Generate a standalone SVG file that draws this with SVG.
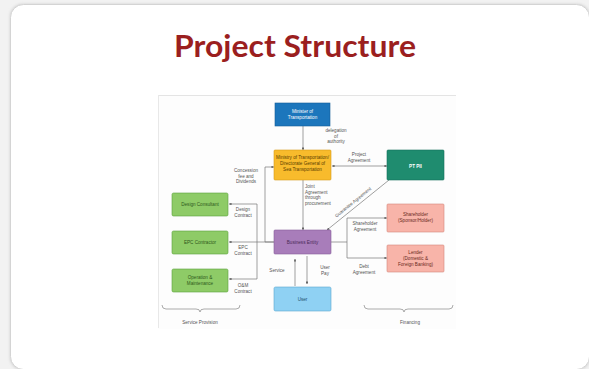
<svg xmlns="http://www.w3.org/2000/svg" width="589" height="369" viewBox="0 0 589 369">
<defs>
<marker id="ah" viewBox="0 0 6 6" refX="5.5" refY="3" markerWidth="4" markerHeight="4" orient="auto-start-reverse"><path d="M0,0 L6,3 L0,6 z" fill="#666"/></marker>
<filter id="sh" x="-5%" y="-5%" width="110%" height="110%"><feGaussianBlur stdDeviation="1.5"/></filter>
</defs>
<style>
.lbl{font-family:"Liberation Sans",Arial,sans-serif;font-size:4.6px;fill:#555;text-anchor:middle}
.bx{font-family:"Liberation Sans",Arial,sans-serif;font-size:4.6px;text-anchor:middle}
.ln{stroke:#777;stroke-width:0.7;fill:none}
.ar{stroke:#777;stroke-width:0.7;fill:none;marker-end:url(#ah)}
.br{stroke:#888;stroke-width:0.7;fill:none}
</style>
<rect width="589" height="369" fill="#f2f2f2"/>
<rect x="10" y="4" width="580" height="366" rx="13" fill="#cfcfcf" filter="url(#sh)"/>
<rect x="10.5" y="4.5" width="579" height="365" rx="13" fill="#ffffff" stroke="#d4d4d4" stroke-width="1"/>
<text x="295" y="57" font-family="Lato,'Open Sans',sans-serif" font-weight="bold" font-size="30" fill="#9b1f1f" text-anchor="middle" textLength="242" lengthAdjust="spacingAndGlyphs">Project Structure</text>
<rect x="158" y="95" width="298" height="234" fill="#fdfdfd"/>
<line x1="158" y1="95.5" x2="456" y2="95.5" stroke="#e4e4e4" stroke-width="1"/>
<line x1="158.5" y1="95" x2="158.5" y2="328" stroke="#e8e8e8" stroke-width="1"/>

<g id="connectors">
<path class="ar" d="M303,126 L303,150"/>
<path class="ar" d="M345,166 L332,166" />
<path class="ar" d="M345,166 L387,166"/>
<path class="ar" d="M389,180 L327,230"/>
<path class="ar" d="M303,180 L303,230"/>
<path class="ar" d="M274,242 L265,242 L265,167 L274,167"/>
<path class="ln" d="M274,242 L257,242"/>
<path class="ln" d="M257,204 L257,279"/>
<path class="ar" d="M257,204 L229,204"/>
<path class="ar" d="M257,242 L229,242"/>
<path class="ar" d="M257,279 L229,279"/>
<path class="ln" d="M331,242 L347,242"/>
<path class="ln" d="M347,218 L347,258"/>
<path class="ar" d="M347,218 L387,218"/>
<path class="ar" d="M347,258 L387,258"/>
<path class="ar" d="M295,286 L295,259"/>
<path class="ar" d="M307,256 L307,284"/>
<path class="br" d="M162,305 Q162,309 166,309 L196,309 Q200,309 200,312 Q200,309 204,309 L236,309 Q240,309 240,305"/>
<path class="br" d="M364,305 Q364,309 368,309 L400,309 Q404,309 404,312 Q404,309 408,309 L449,309 Q453,309 453,305"/>
</g>

<g class="lbl">
<text x="336" y="132">delegation</text><text x="336" y="137.5">of</text><text x="336" y="143">authority</text>
<text x="359" y="156">Project</text><text x="359" y="161.5">Agreement</text>
<text x="246" y="172">Concession</text><text x="246" y="177.5">fee and</text><text x="246" y="183">Dividends</text>
<text x="305" y="188" text-anchor="start">Joint</text><text x="305" y="193.5" text-anchor="start">Agreement</text><text x="305" y="199" text-anchor="start">through</text><text x="305" y="204.5" text-anchor="start">procurement</text>
<text x="354" y="203.5" transform="rotate(-39 354 203.5)">Guarantee Agreement</text>
<text x="243" y="211">Design</text><text x="243" y="216.5">Contract</text>
<text x="243" y="249">EPC</text><text x="243" y="254.5">Contract</text>
<text x="243" y="287">O&amp;M</text><text x="243" y="292.5">Contract</text>
<text x="365" y="225">Shareholder</text><text x="365" y="230.5">Agreement</text>
<text x="364" y="268">Debt</text><text x="364" y="273.5">Agreement</text>
<text x="277" y="272">Service</text>
<text x="325" y="269">User</text><text x="325" y="274.5">Pay</text>
<text x="200" y="324">Service Provision</text>
<text x="410" y="324">Financing</text>
</g>

<g id="minister"><rect x="275" y="103" width="55" height="23" fill="#1c76bc" stroke="#155e98" stroke-width="0.6"/><text class="bx" x="302.5" y="113" fill="#fff">Minister of</text><text class="bx" x="302.5" y="119" fill="#fff">Transportation</text></g>
<g id="dgst"><rect x="274" y="150" width="57" height="30" rx="1" fill="#f8bb2c" stroke="#d69a18" stroke-width="0.6"/><text class="bx" x="302.5" y="159" fill="#5a4000" font-size="3.6">Ministry of Transportation/</text><text class="bx" x="302.5" y="165" fill="#5a4000">Directorate General of</text><text class="bx" x="302.5" y="171" fill="#5a4000">Sea Transportation</text></g>
<g id="ptpii"><rect x="387" y="150" width="57" height="30" rx="1" fill="#1f8c6f" stroke="#16705a" stroke-width="0.6"/><text class="bx" x="415.5" y="167.5" fill="#fff" font-size="7" font-weight="bold">PT PII</text></g>
<g id="be"><rect x="274" y="230" width="57" height="24" rx="1" fill="#a87dba" stroke="#875e9c" stroke-width="0.6"/><text class="bx" x="302.5" y="243.5" fill="#4a2a58">Business Entity</text></g>
<g id="design"><rect x="172" y="193" width="56" height="23" rx="1.5" fill="#8ecb67" stroke="#5da23c" stroke-width="0.6"/><text class="bx" x="200" y="206" fill="#2f5a1c">Design Consultant</text></g>
<g id="epc"><rect x="172" y="231" width="56" height="23" rx="1.5" fill="#8ecb67" stroke="#5da23c" stroke-width="0.6"/><text class="bx" x="200" y="244" fill="#2f5a1c">EPC Contractor</text></g>
<g id="om"><rect x="172" y="269" width="56" height="23" rx="1.5" fill="#8ecb67" stroke="#5da23c" stroke-width="0.6"/><text class="bx" x="200" y="279" fill="#2f5a1c">Operation &amp;</text><text class="bx" x="200" y="285" fill="#2f5a1c">Maintenance</text></g>
<g id="user"><rect x="274" y="287" width="57" height="24" rx="1.5" fill="#8fd1f3" stroke="#5aa7d2" stroke-width="0.6"/><text class="bx" x="302.5" y="300.5" fill="#1e4f6e">User</text></g>
<g id="shareholder"><rect x="387" y="204" width="57" height="28" rx="1" fill="#f8b4a9" stroke="#d5887c" stroke-width="0.6"/><text class="bx" x="415.5" y="216" fill="#6a2a22">Shareholder</text><text class="bx" x="415.5" y="222" fill="#6a2a22">(Sponsor/Holder)</text></g>
<g id="lender"><rect x="387" y="245" width="57" height="27" rx="1" fill="#f8b4a9" stroke="#d5887c" stroke-width="0.6"/><text class="bx" x="415.5" y="254" fill="#6a2a22">Lender</text><text class="bx" x="415.5" y="260" fill="#6a2a22">(Domestic &amp;</text><text class="bx" x="415.5" y="266" fill="#6a2a22">Foreign Banking)</text></g>
</svg>
